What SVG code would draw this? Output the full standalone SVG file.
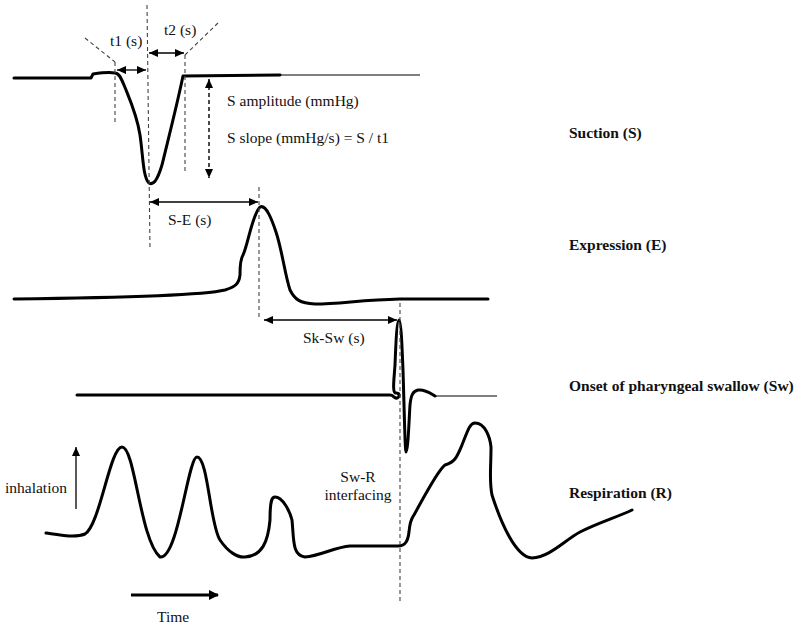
<svg xmlns="http://www.w3.org/2000/svg" width="800" height="629" viewBox="0 0 800 629">
<style>
text{font-family:"Liberation Serif","Times New Roman",serif;font-size:15.5px;fill:#111}
.b{font-weight:bold}
.tr{fill:none;stroke:#000;stroke-width:3;stroke-linecap:round;stroke-linejoin:round}
.thin{fill:none;stroke:#000;stroke-width:1.2}
.dash{fill:none;stroke:#444;stroke-width:1.1;stroke-dasharray:4,3}
.arr{fill:none;stroke:#000;stroke-width:1.3}
</style>
<defs>
<marker id="ah" markerUnits="userSpaceOnUse" markerWidth="10" markerHeight="8" refX="9" refY="4" orient="auto-start-reverse"><path d="M0,0 L9,4 L0,8 Z" fill="#000"/></marker>
<marker id="ahb" markerUnits="userSpaceOnUse" markerWidth="10" markerHeight="10" refX="9" refY="5" orient="auto"><path d="M0,0 L10,5 L0,10 Z" fill="#000"/></marker>
</defs>
<rect width="800" height="629" fill="#fff"/>

<g id="suction">
<path class="tr" d="M14,78 L91,78 L93,74 C100,73 110,72 115,73 C119,73 121,78 124,85 C130,100 137,115 140,135 C143,155 143,178 149,183 C154,186 158,178 162,165 C168,140 177,105 183,76 L280,75"/>
<path class="thin" d="M280,75 L420,75"/>
</g>

<g id="expression">
<path class="tr" d="M14,299 C100,298 200,296 225,290 C235,287 239,284 240,275 C240,262 241,258 243,255 C248,245 252,215 260,207 C266,204 272,220 276,232 C282,250 285,275 290,290 C295,300 300,303 315,304 C340,304 360,300 400,299 L488,299"/>
</g>

<g id="swallow">
<path class="tr" d="M77,395 L390,395 C394,395 394,399 397,398 C400,397 400,393 396,393 C392,393 394,380 395,365 C396,340 397,320 399,320 C401,320 402,345 403,370 C404,400 405,452 406,452 C408,452 409,420 410,405 C411,395 413,391 418,390 C425,389 430,393 435,396"/>
<path class="thin" d="M435,396 L497,396"/>
</g>

<g id="respiration">
<path class="tr" d="M46,533 C60,535 75,538 85,534 C100,525 110,447 122,447 C135,447 140,540 160,557 C178,560 188,457 197,457 C208,457 210,525 220,540 C228,552 238,558 245,557 C262,556 268,542 270,520 C270,500 272,497 275,497 C283,497 290,512 292,520 C294,540 292,555 305,557 C320,556 335,547 350,546 L398,546 C406,546 408,540 409,532 C410,520 412,518 414,515 C425,495 438,470 445,465 C455,462 457,457 462,445 C468,430 470,423 475,423 C485,423 490,437 491,447 C491,470 489,480 492,495 C500,520 515,557 532,558 C550,557 565,540 580,532 C600,522 615,518 632,510"/>
</g>

<g id="connectors">
<line class="dash" x1="147" y1="5" x2="150" y2="250"/>
<line class="dash" x1="115" y1="62" x2="115" y2="125"/>
<line class="dash" x1="185" y1="55" x2="185" y2="173"/>
<line class="dash" x1="85" y1="38" x2="115" y2="62"/>
<line class="dash" x1="185" y1="55" x2="218" y2="23"/>
<line class="dash" x1="259" y1="187" x2="259" y2="320"/>
<line class="dash" x1="400" y1="303" x2="400" y2="603"/>
<line class="arr" x1="117" y1="70" x2="146" y2="70" marker-start="url(#ah)" marker-end="url(#ah)"/>
<line class="arr" x1="149" y1="53" x2="184" y2="53" marker-start="url(#ah)" marker-end="url(#ah)"/>
<line class="dash" style="stroke:#000;stroke-width:1.4" x1="209" y1="79" x2="209" y2="178" marker-start="url(#ah)" marker-end="url(#ah)"/>
<line class="arr" x1="150" y1="202" x2="258" y2="202" marker-start="url(#ah)" marker-end="url(#ah)"/>
<line class="arr" x1="264" y1="320" x2="397" y2="320" marker-start="url(#ah)" marker-end="url(#ah)"/>
<line class="arr" x1="76" y1="509" x2="76" y2="447" marker-end="url(#ah)"/>
<line class="tr" style="stroke-linecap:butt" x1="131" y1="595" x2="218" y2="595" marker-end="url(#ahb)"/>
</g>

<g id="labels">
<text x="110" y="46">t1 (s)</text>
<text x="164" y="35">t2 (s)</text>
<text x="227" y="106">S amplitude (mmHg)</text>
<text x="227" y="143">S slope (mmHg/s) = S / t1</text>
<text x="168" y="225">S-E (s)</text>
<text x="303" y="343">Sk-Sw (s)</text>
<text x="5" y="493">inhalation</text>
<text x="358" y="482" text-anchor="middle">Sw-R</text>
<text x="358" y="500" text-anchor="middle">interfacing</text>
<text x="157" y="622">Time</text>
</g>

<g id="trace-labels">
<text class="b" x="569" y="138">Suction (S)</text>
<text class="b" x="569" y="250">Expression (E)</text>
<text class="b" x="569" y="391">Onset of pharyngeal swallow (Sw)</text>
<text class="b" x="569" y="498">Respiration (R)</text>
</g>
</svg>
